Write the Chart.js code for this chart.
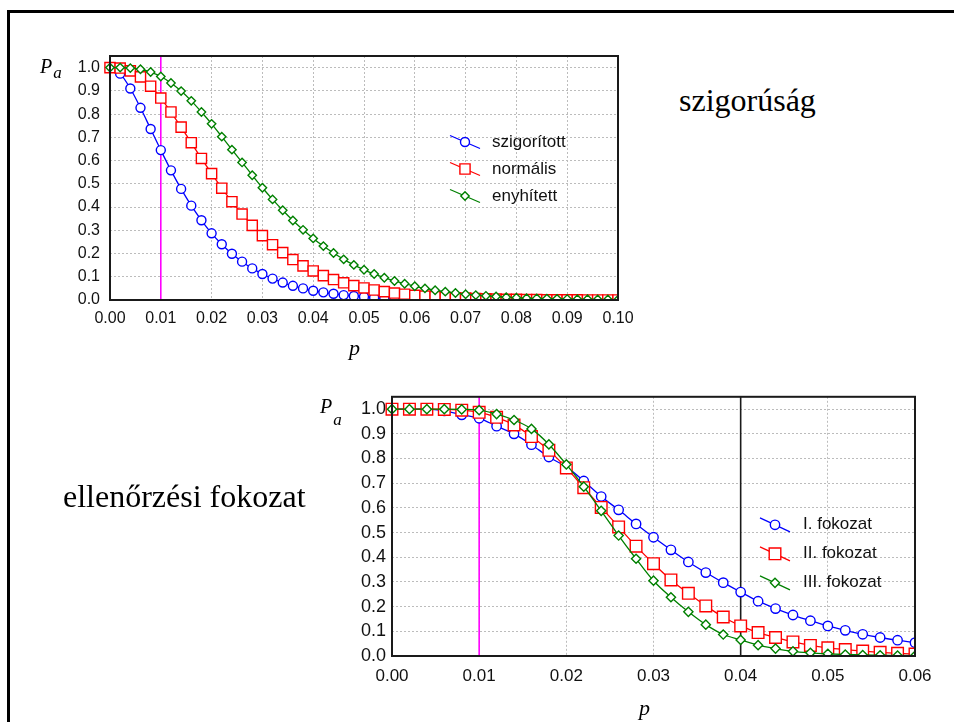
<!DOCTYPE html>
<html>
<head>
<meta charset="utf-8">
<script src="https://cdn.jsdelivr.net/npm/chart.js@4.4.1/dist/chart.umd.min.js"></script>
<style>
    body { margin: 0; background: #fff; width: 954px; height: 722px; overflow: hidden; position: relative; }
    #frame { position: absolute; left: 7px; top: 10px; width: 1000px; height: 800px; border-top: 3px solid #000; border-left: 3px solid #000; }
    canvas { position: absolute; }
    #topChart { left: 0; top: 0; }
    #bottomChart { left: 280px; top: 380px; }
    .lbl { position: absolute; font-family: "Liberation Serif", "Times New Roman", serif; color: #000; line-height: 1; white-space: nowrap; }
    .ax { font-style: italic; font-size: 20px; }
    .ax span { position: relative; font-size: 17px; margin-left: 1px; }
</style>
</head>
<body>
<div id="frame"></div>
<canvas id="topChart" width="660" height="340"></canvas>
<canvas id="bottomChart" width="674" height="342"></canvas>

<div class="lbl" style="left:679px; top:84px; font-size:32px;">szigorúság</div>
<div class="lbl" style="left:63px; top:480px; font-size:32px;">ellenőrzési fokozat</div>
<div class="lbl ax" style="left:40px; top:56px;">P<span style="top:5px;">a</span></div>
<div class="lbl ax" style="left:320px; top:396px;">P<span style="top:12px;">a</span></div>
<div class="lbl ax" style="left:349px; top:337px; font-size:22px;">p</div>
<div class="lbl ax" style="left:639px; top:697px; font-size:22px;">p</div>

<script>
// felső ábra: szigorúság (p = 0 ... 0.10)
const pTop = [0.000, 0.002, 0.004, 0.006, 0.008, 0.010, 0.012, 0.014, 0.016, 0.018,
    0.020, 0.022, 0.024, 0.026, 0.028, 0.030, 0.032, 0.034, 0.036, 0.038,
    0.040, 0.042, 0.044, 0.046, 0.048, 0.050, 0.052, 0.054, 0.056, 0.058,
    0.060, 0.062, 0.064, 0.066, 0.068, 0.070, 0.072, 0.074, 0.076, 0.078,
    0.080, 0.082, 0.084, 0.086, 0.088, 0.090, 0.092, 0.094, 0.096, 0.098, 0.100];
const szigoritott = [1.000, 0.974, 0.910, 0.827, 0.736, 0.645, 0.558, 0.478, 0.406, 0.343,
    0.287, 0.240, 0.199, 0.165, 0.136, 0.112, 0.092, 0.075, 0.061, 0.050,
    0.040, 0.033, 0.027, 0.021, 0.017, 0.014, 0.011, 0.009, 0.007, 0.006,
    0.005, 0.004, 0.003, 0.002, 0.002, 0.001, 0.001, 0.001, 0.001, 0.000,
    0.000, 0.000, 0.000, 0.000, 0.000, 0.000, 0.000, 0.000, 0.000, 0.000, 0.000];
const normalis = [1.000, 0.998, 0.986, 0.960, 0.920, 0.869, 0.809, 0.744, 0.677, 0.609,
    0.544, 0.481, 0.423, 0.370, 0.321, 0.277, 0.238, 0.204, 0.174, 0.147,
    0.125, 0.105, 0.088, 0.074, 0.062, 0.052, 0.043, 0.036, 0.030, 0.025,
    0.020, 0.017, 0.014, 0.011, 0.009, 0.008, 0.006, 0.005, 0.004, 0.003,
    0.003, 0.002, 0.002, 0.001, 0.001, 0.001, 0.001, 0.000, 0.000, 0.000, 0.000];
const enyhitett = [1.000, 1.000, 0.998, 0.993, 0.981, 0.962, 0.934, 0.899, 0.857, 0.809,
    0.758, 0.703, 0.647, 0.592, 0.537, 0.483, 0.433, 0.386, 0.342, 0.302,
    0.265, 0.232, 0.202, 0.175, 0.151, 0.130, 0.112, 0.096, 0.082, 0.070,
    0.059, 0.050, 0.042, 0.036, 0.030, 0.025, 0.021, 0.018, 0.015, 0.012,
    0.010, 0.008, 0.007, 0.006, 0.005, 0.004, 0.003, 0.003, 0.002, 0.002, 0.001];
const topMarkers = [0.01];

// alsó ábra: ellenőrzési fokozat (p = 0 ... 0.06)
const pBottom = [0.000, 0.002, 0.004, 0.006, 0.008, 0.010, 0.012, 0.014, 0.016, 0.018,
    0.020, 0.022, 0.024, 0.026, 0.028, 0.030, 0.032, 0.034, 0.036, 0.038,
    0.040, 0.042, 0.044, 0.046, 0.048, 0.050, 0.052, 0.054, 0.056, 0.058, 0.060];
const fokozat1 = [1.000, 1.000, 1.000, 0.993, 0.977, 0.963, 0.931, 0.900, 0.856, 0.806,
    0.766, 0.709, 0.646, 0.592, 0.535, 0.481, 0.430, 0.381, 0.338, 0.297,
    0.259, 0.222, 0.192, 0.166, 0.143, 0.122, 0.104, 0.088, 0.075, 0.064, 0.054];
const fokozat2 = [1.000, 1.000, 1.000, 0.999, 0.996, 0.987, 0.967, 0.936, 0.889, 0.833,
    0.762, 0.682, 0.602, 0.523, 0.445, 0.374, 0.308, 0.254, 0.203, 0.158,
    0.122, 0.095, 0.075, 0.057, 0.043, 0.033, 0.026, 0.020, 0.015, 0.011, 0.008];
const fokozat3 = [1.000, 1.000, 1.000, 1.000, 0.999, 0.996, 0.980, 0.956, 0.920, 0.857,
    0.776, 0.686, 0.588, 0.488, 0.394, 0.305, 0.238, 0.179, 0.127, 0.087,
    0.065, 0.044, 0.030, 0.019, 0.013, 0.009, 0.006, 0.004, 0.003, 0.002, 0.001];
const bottomMarkers = [0.01, 0.04];

const sansFont = '"Liberation Sans", Arial, sans-serif';

function toPoints(xs, ys) {
    return xs.map((x, i) => ({ x: x, y: ys[i] }));
}

// jelölők rajzolása (a Chart.js geometriájával)
function drawMarker(ctx, style, x, y, r) {
    ctx.beginPath();
    if (style === 'circle') {
        ctx.arc(x, y, r, 0, Math.PI * 2);
    } else if (style === 'rect') {
        const s = Math.SQRT1_2 * r;
        ctx.rect(x - s, y - s, 2 * s, 2 * s);
    } else {
        ctx.moveTo(x - r, y);
        ctx.lineTo(x, y - r);
        ctx.lineTo(x + r, y);
        ctx.lineTo(x, y + r);
        ctx.closePath();
    }
    ctx.fill();
    ctx.stroke();
}

// függőleges jelölővonalak + keret
const frameLines = {
    id: 'frameLines',
    beforeDatasetsDraw(chart, args, opts) {
        const { ctx, chartArea: a, scales: { x } } = chart;
        ctx.save();
        (opts.values || []).forEach((v, i) => {
            const px = x.getPixelForValue(v);
            ctx.strokeStyle = opts.colors[i];
            ctx.lineWidth = 1.6;
            ctx.beginPath();
            ctx.moveTo(px, a.top);
            ctx.lineTo(px, a.bottom);
            ctx.stroke();
        });
        ctx.restore();
    },
    afterDraw(chart) {
        const { ctx, chartArea: a } = chart;
        ctx.save();
        ctx.strokeStyle = '#1a1a1a';
        ctx.lineWidth = 2;
        ctx.strokeRect(a.left, a.top, a.right - a.left, a.bottom - a.top);
        ctx.restore();
    }
};

// ferde vonalas jelmagyarázat
const slantLegend = {
    id: 'slantLegend',
    afterDraw(chart, args, opts) {
        const { ctx, chartArea: a } = chart;
        chart.data.datasets.forEach((ds, i) => {
            const x0 = a.left + opts.x;
            const y = a.top + opts.y + i * opts.gap;
            ctx.save();
            ctx.strokeStyle = ds.borderColor;
            ctx.lineWidth = ds.borderWidth;
            ctx.beginPath();
            ctx.moveTo(x0, y - opts.rise);
            ctx.lineTo(x0 + opts.len, y + opts.rise);
            ctx.stroke();
            ctx.fillStyle = '#fff';
            ctx.lineWidth = ds.pointBorderWidth;
            drawMarker(ctx, ds.pointStyle, x0 + opts.len / 2, y, ds.pointRadius);
            ctx.fillStyle = '#111';
            ctx.font = opts.fontSize + 'px ' + sansFont;
            ctx.textBaseline = 'middle';
            ctx.fillText(ds.label, x0 + opts.textOffset, y);
            ctx.restore();
        });
    }
};

function makeSeries(label, xs, ys, color, style, radius, order) {
    return {
        label: label,
        data: toPoints(xs, ys),
        borderColor: color,
        backgroundColor: '#fff',
        pointBackgroundColor: '#fff',
        pointBorderColor: color,
        pointStyle: style,
        pointRadius: radius,
        pointBorderWidth: 1.4,
        borderWidth: 1.3,
        cubicInterpolationMode: 'monotone',
        clip: { left: 10, top: 10, right: 0, bottom: 0 },
        order: order
    };
}

function axisOptions(min, max, step, digits, fontSize, padding, fitSize, isX, includeBounds) {
    return {
        type: 'linear',
        min: min,
        max: max,
        afterFit: function(scale) {
            if (isX) scale.height = fitSize; else scale.width = fitSize;
        },
        ticks: {
            stepSize: step,
            includeBounds: includeBounds,
            padding: padding,
            color: '#111',
            autoSkip: false,
            maxRotation: 0,
            font: { family: sansFont, size: fontSize },
            callback: function(value) { return value.toFixed(digits); }
        },
        grid: { color: '#bcbcbc', lineWidth: 1, drawTicks: false, borderDash: [2, 2] },
        border: { display: false, dash: [2, 2] }
    };
}

function initCharts() {
    new Chart(document.getElementById('topChart'), {
        type: 'line',
        data: {
            datasets: [
                makeSeries('szigorított', pTop, szigoritott, '#0000ff', 'circle', 4.5, 2),
                makeSeries('normális', pTop, normalis, '#ff0000', 'rect', 7.2, 1),
                makeSeries('enyhített', pTop, enyhitett, '#008000', 'rectRot', 4.2, 0)
            ]
        },
        options: {
            responsive: false,
            animation: false,
            devicePixelRatio: 1,
            layout: { padding: { left: 0, top: 56, right: 42, bottom: 0 } },
            plugins: {
                legend: { display: false },
                tooltip: { enabled: false },
                frameLines: { values: topMarkers, colors: ['#ff00ff'] },
                slantLegend: { x: 340, y: 86, gap: 27, len: 30, rise: 6.5, textOffset: 42, fontSize: 17 }
            },
            scales: {
                x: axisOptions(0, 0.1, 0.01, 2, 16, 9, 40, true, true),
                y: axisOptions(0, 1.05, 0.1, 1, 16, 10, 110, false, false)
            }
        },
        plugins: [frameLines, slantLegend]
    });

    new Chart(document.getElementById('bottomChart'), {
        type: 'line',
        data: {
            datasets: [
                makeSeries('I. fokozat', pBottom, fokozat1, '#0000ff', 'circle', 4.7, 2),
                makeSeries('II. fokozat', pBottom, fokozat2, '#ff0000', 'rect', 8.2, 1),
                makeSeries('III. fokozat', pBottom, fokozat3, '#008000', 'rectRot', 4.6, 0)
            ]
        },
        options: {
            responsive: false,
            animation: false,
            devicePixelRatio: 1,
            layout: { padding: { left: 0, top: 15, right: 39, bottom: 26 } },
            plugins: {
                legend: { display: false },
                tooltip: { enabled: false },
                frameLines: { values: bottomMarkers, colors: ['#ff00ff', '#1a1a1a'] },
                slantLegend: { x: 368, y: 128, gap: 29, len: 30, rise: 7, textOffset: 43, fontSize: 17 }
            },
            scales: {
                x: axisOptions(0, 0.06, 0.01, 2, 17, 10, 40, true, true),
                y: axisOptions(0, 1.05, 0.1, 1, 18, 6, 112, false, false)
            }
        },
        plugins: [frameLines, slantLegend]
    });
}

document.addEventListener('DOMContentLoaded', initCharts);
</script>
</body>
</html>
